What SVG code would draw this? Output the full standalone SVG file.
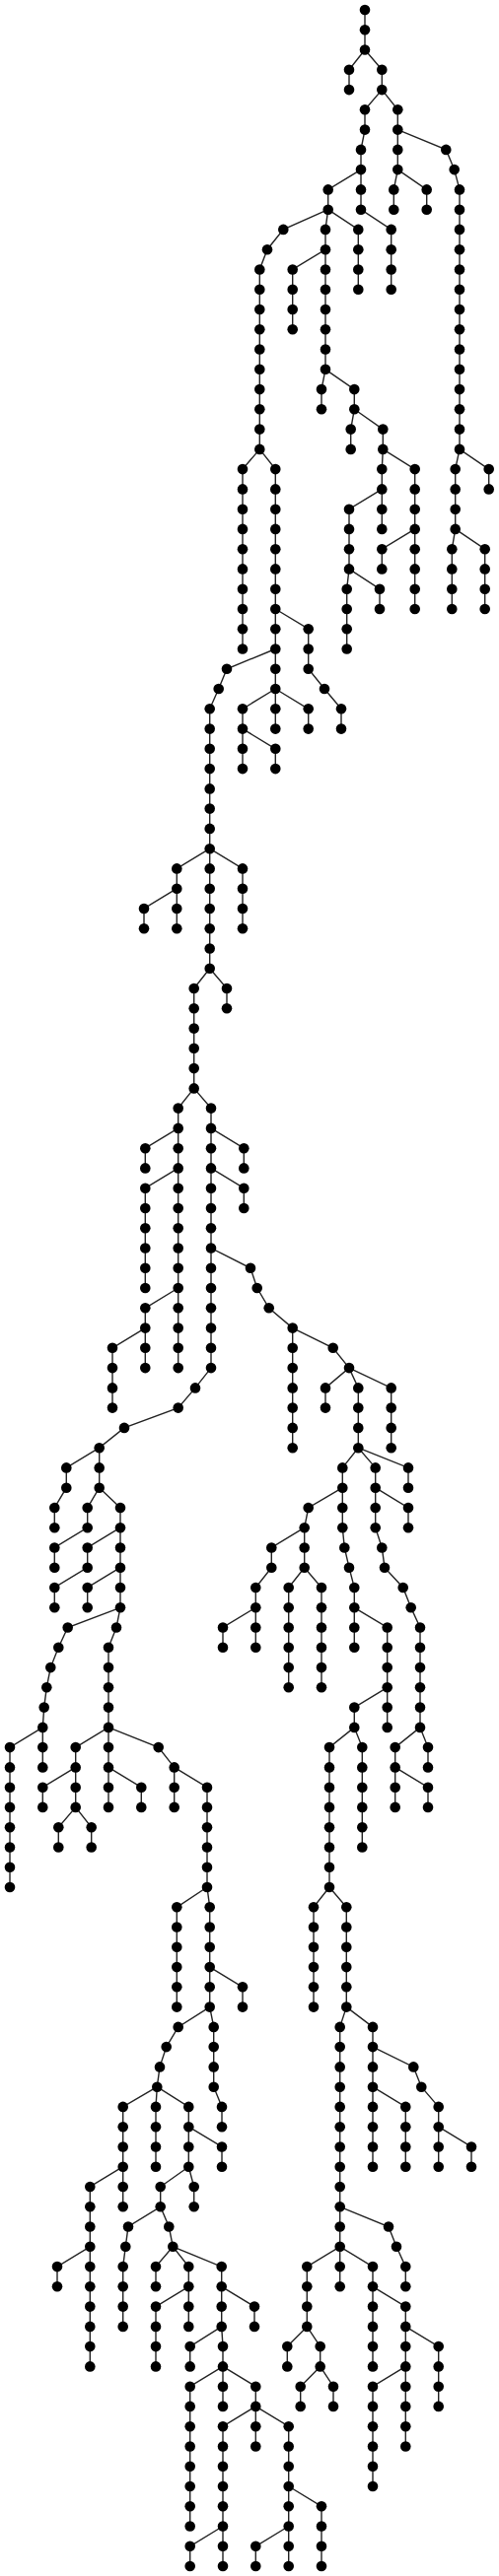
<svg xmlns="http://www.w3.org/2000/svg" width="506" height="2614" viewBox="0 0 506 2614">
<style>
.e path{fill:none;stroke:#222;stroke-width:1.4}
.n circle{fill:#000}
</style>
<rect width="506" height="2614" fill="#fff"/>
<g class="e" id="connectors">
<path d="M370 10V50.5"/>
<path d="M370 50.5L354 70.8V91.1"/>
<path d="M370 50.5L387.3 70.8V91.1"/>
<path d="M387.3 91.1L370 111.3V131.6L366 151.9V172.1"/>
<path d="M366 172.1L332.7 192.4V212.7"/>
<path d="M332.7 212.7L287.3 232.9L271 253.2L263.3 273.5V455.9"/>
<path d="M263.3 455.9L246 476.1V658.5"/>
<path d="M263.3 455.9L279.3 476.1V739.6"/>
<path d="M279.3 618L312.7 638.2V678.8L329 699L346 719.3V739.6"/>
<path d="M279.3 658.5L230 678.8L221.7 699L212.7 719.3V982.8"/>
<path d="M212.7 861.2L179.3 881.4V942.2"/>
<path d="M179.3 901.7L146 922V942.2"/>
<path d="M212.7 861.2L246 881.4V942.2"/>
<path d="M212.7 982.8L230 1003V1023.3"/>
<path d="M212.7 982.8L196.7 1003V1104.4"/>
<path d="M196.7 1104.4L180.7 1124.6V1388.1"/>
<path d="M180.7 1144.9L147.3 1165.2V1185.4"/>
<path d="M180.7 1185.4L147.3 1205.7V1307"/>
<path d="M180.7 1307L147.3 1327.3V1388.1"/>
<path d="M147.3 1347.6L114 1367.8V1428.6"/>
<path d="M196.7 1104.4L214 1124.6V1388.1L198 1408.4L180.7 1428.6L126 1448.9L100.7 1469.2V1509.7"/>
<path d="M214 1144.9L247.3 1165.2V1185.4"/>
<path d="M214 1185.4L247.3 1205.7V1226"/>
<path d="M214 1266.5L254 1286.8L260.7 1307L272.7 1327.3L296.7 1347.6V1469.2"/>
<path d="M296.7 1347.6L337.7 1367.8L354 1388.1L330 1408.4V1428.6"/>
<path d="M354 1388.1L363.3 1408.4V1469.2L380.7 1489.4V1550.2L387.3 1570.5L390 1590.7L408.7 1611L416.7 1631.3L426 1651.5V1752.9"/>
<path d="M354 1388.1L396.7 1408.4V1469.2"/>
<path d="M363.3 1469.2L347.3 1489.4V1550.2L349.3 1570.5L354 1590.7L359.3 1611V1671.8"/>
<path d="M363.3 1469.2L414 1489.4V1509.7"/>
<path d="M380.7 1509.7L414 1530V1550.2"/>
<path d="M347.3 1509.7L312.7 1530L308.7 1550.2V1590.7"/>
<path d="M308.7 1590.7L292.7 1611V1712.3"/>
<path d="M308.7 1590.7L326 1611V1712.3"/>
<path d="M308.7 1550.2L275.3 1570.5V1590.7L259.3 1611V1671.8"/>
<path d="M259.3 1631.3L226 1651.5V1671.8"/>
<path d="M359.3 1631.3L392.7 1651.5V1752.9"/>
<path d="M392.7 1712.3L359.3 1732.6V1752.9"/>
<path d="M359.3 1752.9L334 1773.1V1915"/>
<path d="M359.3 1752.9L367.3 1773.1V1874.5"/>
<path d="M426 1752.9L400.7 1773.1V1833.9"/>
<path d="M426 1752.9L434 1773.1V1793.4"/>
<path d="M400.7 1793.4L434 1813.7V1833.9"/>
<path d="M334 1915L318 1935.3V2036.6"/>
<path d="M334 1915L351.3 1935.3V2036.6"/>
<path d="M351.3 2036.6L344.7 2056.9V2320.3"/>
<path d="M344.7 2239.3L394 2259.5L402 2279.8L411.3 2300.1V2320.3"/>
<path d="M344.7 2279.8L311.3 2300.1V2360.9"/>
<path d="M311.3 2360.9L291.3 2381.1V2401.4"/>
<path d="M311.3 2360.9L324.7 2381.1V2401.4"/>
<path d="M324.7 2401.4L304.7 2421.7V2441.9"/>
<path d="M324.7 2401.4L338 2421.7V2441.9"/>
<path d="M344.7 2279.8L378 2300.1V2401.4"/>
<path d="M378 2320.3L411.3 2340.6V2482.5"/>
<path d="M411.3 2360.9L444.7 2381.1V2441.9"/>
<path d="M411.3 2401.4L378 2421.7V2523"/>
<path d="M351.3 2036.6L378 2056.9V2198.7"/>
<path d="M378 2077.1L419.3 2097.4L427.3 2117.7L444.7 2137.9V2198.7"/>
<path d="M444.7 2158.2L478 2178.5V2198.7"/>
<path d="M378 2117.7L411.3 2137.9V2198.7"/>
<path d="M100.7 1469.2L67.3 1489.4V1509.7L55.3 1530V1550.2"/>
<path d="M100.7 1509.7L88.7 1530V1550.2L55.3 1570.5V1590.7"/>
<path d="M100.7 1509.7L122 1530V1631.3"/>
<path d="M122 1550.2L88.7 1570.5V1590.7L55.3 1611V1631.3"/>
<path d="M122 1590.7L88.7 1611V1631.3"/>
<path d="M122 1631.3L68.7 1651.5L59.3 1671.8L51.3 1692.1L47.3 1712.3L44.7 1732.6L43.3 1752.9V1793.4"/>
<path d="M43.3 1752.9L10 1773.1V1915"/>
<path d="M122 1631.3L118 1651.5L110 1671.8V1833.9"/>
<path d="M110 1752.9L76.7 1773.1V1833.9"/>
<path d="M76.7 1793.4L43.3 1813.7V1833.9"/>
<path d="M76.7 1833.9L59.3 1854.2V1874.5"/>
<path d="M76.7 1833.9L92.7 1854.2V1874.5"/>
<path d="M110 1793.4L143.3 1813.7V1833.9"/>
<path d="M110 1752.9L160.7 1773.1L176.7 1793.4V1833.9"/>
<path d="M176.7 1793.4L210 1813.7V1915"/>
<path d="M210 1915L179.3 1935.3V2036.6"/>
<path d="M210 1915L212.7 1935.3V2036.6"/>
<path d="M212.7 1996.1L246 2016.3V2036.6"/>
<path d="M212.7 2036.6L180.7 2056.9L168.7 2077.1L162 2097.4L159.3 2117.7"/>
<path d="M159.3 2117.7L124.7 2137.9V2239.3"/>
<path d="M124.7 2198.7L91.3 2219V2401.4"/>
<path d="M91.3 2279.8L58 2300.1V2320.3"/>
<path d="M159.3 2117.7L158 2137.9V2198.7"/>
<path d="M159.3 2117.7L191.3 2137.9V2198.7"/>
<path d="M191.3 2158.2L225 2178.5V2198.7"/>
<path d="M191.3 2198.7L196.7 2219V2239.3"/>
<path d="M191.3 2198.7L162.7 2219V2239.3L130 2259.5L127.3 2279.8L124.7 2300.1V2360.9"/>
<path d="M162.7 2239.3L171.3 2259.5L175.3 2279.8"/>
<path d="M175.3 2279.8L158 2300.1V2320.3"/>
<path d="M175.3 2279.8L191.3 2300.1V2360.9"/>
<path d="M191.3 2320.3L158 2340.6V2401.4"/>
<path d="M175.3 2279.8L224.7 2300.1V2360.9"/>
<path d="M224.7 2320.3L258 2340.6V2360.9"/>
<path d="M224.7 2360.9L192.7 2381.1V2401.4"/>
<path d="M224.7 2360.9L226 2381.1V2441.9"/>
<path d="M226 2401.4L192.7 2421.7V2563.5"/>
<path d="M226 2401.4L259.3 2421.7V2482.5"/>
<path d="M259.3 2441.9L226 2462.2V2604"/>
<path d="M226 2563.5L192.7 2583.8V2604"/>
<path d="M259.3 2441.9L292.7 2462.2V2604"/>
<path d="M292.7 2523L326 2543.3V2604"/>
<path d="M292.7 2563.5L259.3 2583.8V2604"/>
<path d="M212.7 2036.6L216.7 2056.9V2117.7L225 2137.9V2158.2"/>
<path d="M279.3 699L246 719.3V780.1"/>
<path d="M246 739.6L279.3 759.8V780.1"/>
<path d="M279.3 699L312.7 719.3V739.6"/>
<path d="M332.7 212.7L330 232.9V374.8"/>
<path d="M330 253.2L296.7 273.5V334.3"/>
<path d="M330 374.8L326 395.1V415.3"/>
<path d="M330 374.8L359.3 395.1V415.3"/>
<path d="M359.3 415.3L355.7 435.6V455.9"/>
<path d="M359.3 415.3L388.3 435.6V455.9"/>
<path d="M388.3 455.9L387.3 476.1V536.9"/>
<path d="M387.3 496.4L354 516.7V577.4"/>
<path d="M354 577.4L351.7 597.7V658.5"/>
<path d="M354 577.4L385 597.7V618"/>
<path d="M388.3 455.9L420.7 476.1V618"/>
<path d="M420.7 536.9L387.3 557.2V577.4"/>
<path d="M332.7 212.7L363.3 232.9V293.7"/>
<path d="M366 172.1V212.7L396.7 232.9V293.7"/>
<path d="M387.3 91.1L403.3 111.3V172.1"/>
<path d="M403.3 172.1L399.3 192.4V212.7"/>
<path d="M403.3 172.1L432.7 192.4V212.7"/>
<path d="M403.3 131.6L452.3 151.9L460.7 172.1L466 192.4V455.9"/>
<path d="M466 455.9L461.7 476.1V536.9"/>
<path d="M461.7 536.9L458.3 557.2V618"/>
<path d="M461.7 536.9L491.7 557.2V618"/>
<path d="M466 455.9L495.7 476.1V496.4"/>
</g>
<g class="n" id="nodes">
<g id="n0"><circle cx="370" cy="10" r="5.3"/></g>
<g id="n1"><circle cx="370" cy="30.3" r="5.3"/></g>
<g id="n2"><circle cx="370" cy="50.5" r="5.3"/></g>
<g id="n3"><circle cx="354" cy="70.8" r="5.3"/></g>
<g id="n4"><circle cx="354" cy="91.1" r="5.3"/></g>
<g id="n5"><circle cx="387.3" cy="70.8" r="5.3"/></g>
<g id="n6"><circle cx="387.3" cy="91.1" r="5.3"/></g>
<g id="n7"><circle cx="370" cy="111.3" r="5.3"/></g>
<g id="n8"><circle cx="370" cy="131.6" r="5.3"/></g>
<g id="n9"><circle cx="366" cy="151.9" r="5.3"/></g>
<g id="n10"><circle cx="366" cy="172.1" r="5.3"/></g>
<g id="n11"><circle cx="332.7" cy="192.4" r="5.3"/></g>
<g id="n12"><circle cx="332.7" cy="212.7" r="5.3"/></g>
<g id="n13"><circle cx="287.3" cy="232.9" r="5.3"/></g>
<g id="n14"><circle cx="271" cy="253.2" r="5.3"/></g>
<g id="n15"><circle cx="263.3" cy="273.5" r="5.3"/></g>
<g id="n16"><circle cx="263.3" cy="293.7" r="5.3"/></g>
<g id="n17"><circle cx="263.3" cy="314" r="5.3"/></g>
<g id="n18"><circle cx="263.3" cy="334.3" r="5.3"/></g>
<g id="n19"><circle cx="263.3" cy="354.5" r="5.3"/></g>
<g id="n20"><circle cx="263.3" cy="374.8" r="5.3"/></g>
<g id="n21"><circle cx="263.3" cy="395.1" r="5.3"/></g>
<g id="n22"><circle cx="263.3" cy="415.3" r="5.3"/></g>
<g id="n23"><circle cx="263.3" cy="435.6" r="5.3"/></g>
<g id="n24"><circle cx="263.3" cy="455.9" r="5.3"/></g>
<g id="n25"><circle cx="246" cy="476.1" r="5.3"/></g>
<g id="n26"><circle cx="246" cy="496.4" r="5.3"/></g>
<g id="n27"><circle cx="246" cy="516.7" r="5.3"/></g>
<g id="n28"><circle cx="246" cy="536.9" r="5.3"/></g>
<g id="n29"><circle cx="246" cy="557.2" r="5.3"/></g>
<g id="n30"><circle cx="246" cy="577.4" r="5.3"/></g>
<g id="n31"><circle cx="246" cy="597.7" r="5.3"/></g>
<g id="n32"><circle cx="246" cy="618" r="5.3"/></g>
<g id="n33"><circle cx="246" cy="638.2" r="5.3"/></g>
<g id="n34"><circle cx="246" cy="658.5" r="5.3"/></g>
<g id="n35"><circle cx="279.3" cy="476.1" r="5.3"/></g>
<g id="n36"><circle cx="279.3" cy="496.4" r="5.3"/></g>
<g id="n37"><circle cx="279.3" cy="516.7" r="5.3"/></g>
<g id="n38"><circle cx="279.3" cy="536.9" r="5.3"/></g>
<g id="n39"><circle cx="279.3" cy="557.2" r="5.3"/></g>
<g id="n40"><circle cx="279.3" cy="577.4" r="5.3"/></g>
<g id="n41"><circle cx="279.3" cy="597.7" r="5.3"/></g>
<g id="n42"><circle cx="279.3" cy="618" r="5.3"/></g>
<g id="n43"><circle cx="279.3" cy="638.2" r="5.3"/></g>
<g id="n44"><circle cx="279.3" cy="658.5" r="5.3"/></g>
<g id="n45"><circle cx="279.3" cy="678.8" r="5.3"/></g>
<g id="n46"><circle cx="279.3" cy="699" r="5.3"/></g>
<g id="n47"><circle cx="279.3" cy="719.3" r="5.3"/></g>
<g id="n48"><circle cx="279.3" cy="739.6" r="5.3"/></g>
<g id="n49"><circle cx="312.7" cy="638.2" r="5.3"/></g>
<g id="n50"><circle cx="312.7" cy="658.5" r="5.3"/></g>
<g id="n51"><circle cx="312.7" cy="678.8" r="5.3"/></g>
<g id="n52"><circle cx="329" cy="699" r="5.3"/></g>
<g id="n53"><circle cx="346" cy="719.3" r="5.3"/></g>
<g id="n54"><circle cx="346" cy="739.6" r="5.3"/></g>
<g id="n55"><circle cx="230" cy="678.8" r="5.3"/></g>
<g id="n56"><circle cx="221.7" cy="699" r="5.3"/></g>
<g id="n57"><circle cx="212.7" cy="719.3" r="5.3"/></g>
<g id="n58"><circle cx="212.7" cy="739.6" r="5.3"/></g>
<g id="n59"><circle cx="212.7" cy="759.8" r="5.3"/></g>
<g id="n60"><circle cx="212.7" cy="780.1" r="5.3"/></g>
<g id="n61"><circle cx="212.7" cy="800.4" r="5.3"/></g>
<g id="n62"><circle cx="212.7" cy="820.6" r="5.3"/></g>
<g id="n63"><circle cx="212.7" cy="840.9" r="5.3"/></g>
<g id="n64"><circle cx="212.7" cy="861.2" r="5.3"/></g>
<g id="n65"><circle cx="212.7" cy="881.4" r="5.3"/></g>
<g id="n66"><circle cx="212.7" cy="901.7" r="5.3"/></g>
<g id="n67"><circle cx="212.7" cy="922" r="5.3"/></g>
<g id="n68"><circle cx="212.7" cy="942.2" r="5.3"/></g>
<g id="n69"><circle cx="212.7" cy="962.5" r="5.3"/></g>
<g id="n70"><circle cx="212.7" cy="982.8" r="5.3"/></g>
<g id="n71"><circle cx="179.3" cy="881.4" r="5.3"/></g>
<g id="n72"><circle cx="179.3" cy="901.7" r="5.3"/></g>
<g id="n73"><circle cx="179.3" cy="922" r="5.3"/></g>
<g id="n74"><circle cx="179.3" cy="942.2" r="5.3"/></g>
<g id="n75"><circle cx="146" cy="922" r="5.3"/></g>
<g id="n76"><circle cx="146" cy="942.2" r="5.3"/></g>
<g id="n77"><circle cx="246" cy="881.4" r="5.3"/></g>
<g id="n78"><circle cx="246" cy="901.7" r="5.3"/></g>
<g id="n79"><circle cx="246" cy="922" r="5.3"/></g>
<g id="n80"><circle cx="246" cy="942.2" r="5.3"/></g>
<g id="n81"><circle cx="230" cy="1003" r="5.3"/></g>
<g id="n82"><circle cx="230" cy="1023.3" r="5.3"/></g>
<g id="n83"><circle cx="196.7" cy="1003" r="5.3"/></g>
<g id="n84"><circle cx="196.7" cy="1023.3" r="5.3"/></g>
<g id="n85"><circle cx="196.7" cy="1043.6" r="5.3"/></g>
<g id="n86"><circle cx="196.7" cy="1063.8" r="5.3"/></g>
<g id="n87"><circle cx="196.7" cy="1084.1" r="5.3"/></g>
<g id="n88"><circle cx="196.7" cy="1104.4" r="5.3"/></g>
<g id="n89"><circle cx="180.7" cy="1124.6" r="5.3"/></g>
<g id="n90"><circle cx="180.7" cy="1144.9" r="5.3"/></g>
<g id="n91"><circle cx="180.7" cy="1165.2" r="5.3"/></g>
<g id="n92"><circle cx="180.7" cy="1185.4" r="5.3"/></g>
<g id="n93"><circle cx="180.7" cy="1205.7" r="5.3"/></g>
<g id="n94"><circle cx="180.7" cy="1226" r="5.3"/></g>
<g id="n95"><circle cx="180.7" cy="1246.2" r="5.3"/></g>
<g id="n96"><circle cx="180.7" cy="1266.5" r="5.3"/></g>
<g id="n97"><circle cx="180.7" cy="1286.8" r="5.3"/></g>
<g id="n98"><circle cx="180.7" cy="1307" r="5.3"/></g>
<g id="n99"><circle cx="180.7" cy="1327.3" r="5.3"/></g>
<g id="n100"><circle cx="180.7" cy="1347.6" r="5.3"/></g>
<g id="n101"><circle cx="180.7" cy="1367.8" r="5.3"/></g>
<g id="n102"><circle cx="180.7" cy="1388.1" r="5.3"/></g>
<g id="n103"><circle cx="147.3" cy="1165.2" r="5.3"/></g>
<g id="n104"><circle cx="147.3" cy="1185.4" r="5.3"/></g>
<g id="n105"><circle cx="147.3" cy="1205.7" r="5.3"/></g>
<g id="n106"><circle cx="147.3" cy="1226" r="5.3"/></g>
<g id="n107"><circle cx="147.3" cy="1246.2" r="5.3"/></g>
<g id="n108"><circle cx="147.3" cy="1266.5" r="5.3"/></g>
<g id="n109"><circle cx="147.3" cy="1286.8" r="5.3"/></g>
<g id="n110"><circle cx="147.3" cy="1307" r="5.3"/></g>
<g id="n111"><circle cx="147.3" cy="1327.3" r="5.3"/></g>
<g id="n112"><circle cx="147.3" cy="1347.6" r="5.3"/></g>
<g id="n113"><circle cx="147.3" cy="1367.8" r="5.3"/></g>
<g id="n114"><circle cx="147.3" cy="1388.1" r="5.3"/></g>
<g id="n115"><circle cx="114" cy="1367.8" r="5.3"/></g>
<g id="n116"><circle cx="114" cy="1388.1" r="5.3"/></g>
<g id="n117"><circle cx="114" cy="1408.4" r="5.3"/></g>
<g id="n118"><circle cx="114" cy="1428.6" r="5.3"/></g>
<g id="n119"><circle cx="214" cy="1124.6" r="5.3"/></g>
<g id="n120"><circle cx="214" cy="1144.9" r="5.3"/></g>
<g id="n121"><circle cx="214" cy="1165.2" r="5.3"/></g>
<g id="n122"><circle cx="214" cy="1185.4" r="5.3"/></g>
<g id="n123"><circle cx="214" cy="1205.7" r="5.3"/></g>
<g id="n124"><circle cx="214" cy="1226" r="5.3"/></g>
<g id="n125"><circle cx="214" cy="1246.2" r="5.3"/></g>
<g id="n126"><circle cx="214" cy="1266.5" r="5.3"/></g>
<g id="n127"><circle cx="214" cy="1286.8" r="5.3"/></g>
<g id="n128"><circle cx="214" cy="1307" r="5.3"/></g>
<g id="n129"><circle cx="214" cy="1327.3" r="5.3"/></g>
<g id="n130"><circle cx="214" cy="1347.6" r="5.3"/></g>
<g id="n131"><circle cx="214" cy="1367.8" r="5.3"/></g>
<g id="n132"><circle cx="214" cy="1388.1" r="5.3"/></g>
<g id="n133"><circle cx="198" cy="1408.4" r="5.3"/></g>
<g id="n134"><circle cx="180.7" cy="1428.6" r="5.3"/></g>
<g id="n135"><circle cx="126" cy="1448.9" r="5.3"/></g>
<g id="n136"><circle cx="100.7" cy="1469.2" r="5.3"/></g>
<g id="n137"><circle cx="100.7" cy="1489.4" r="5.3"/></g>
<g id="n138"><circle cx="100.7" cy="1509.7" r="5.3"/></g>
<g id="n139"><circle cx="247.3" cy="1165.2" r="5.3"/></g>
<g id="n140"><circle cx="247.3" cy="1185.4" r="5.3"/></g>
<g id="n141"><circle cx="247.3" cy="1205.7" r="5.3"/></g>
<g id="n142"><circle cx="247.3" cy="1226" r="5.3"/></g>
<g id="n143"><circle cx="254" cy="1286.8" r="5.3"/></g>
<g id="n144"><circle cx="260.7" cy="1307" r="5.3"/></g>
<g id="n145"><circle cx="272.7" cy="1327.3" r="5.3"/></g>
<g id="n146"><circle cx="296.7" cy="1347.6" r="5.3"/></g>
<g id="n147"><circle cx="296.7" cy="1367.8" r="5.3"/></g>
<g id="n148"><circle cx="296.7" cy="1388.1" r="5.3"/></g>
<g id="n149"><circle cx="296.7" cy="1408.4" r="5.3"/></g>
<g id="n150"><circle cx="296.7" cy="1428.6" r="5.3"/></g>
<g id="n151"><circle cx="296.7" cy="1448.9" r="5.3"/></g>
<g id="n152"><circle cx="296.7" cy="1469.2" r="5.3"/></g>
<g id="n153"><circle cx="337.7" cy="1367.8" r="5.3"/></g>
<g id="n154"><circle cx="354" cy="1388.1" r="5.3"/></g>
<g id="n155"><circle cx="330" cy="1408.4" r="5.3"/></g>
<g id="n156"><circle cx="330" cy="1428.6" r="5.3"/></g>
<g id="n157"><circle cx="363.3" cy="1408.4" r="5.3"/></g>
<g id="n158"><circle cx="363.3" cy="1428.6" r="5.3"/></g>
<g id="n159"><circle cx="363.3" cy="1448.9" r="5.3"/></g>
<g id="n160"><circle cx="363.3" cy="1469.2" r="5.3"/></g>
<g id="n161"><circle cx="380.7" cy="1489.4" r="5.3"/></g>
<g id="n162"><circle cx="380.7" cy="1509.7" r="5.3"/></g>
<g id="n163"><circle cx="380.7" cy="1530" r="5.3"/></g>
<g id="n164"><circle cx="380.7" cy="1550.2" r="5.3"/></g>
<g id="n165"><circle cx="387.3" cy="1570.5" r="5.3"/></g>
<g id="n166"><circle cx="390" cy="1590.7" r="5.3"/></g>
<g id="n167"><circle cx="408.7" cy="1611" r="5.3"/></g>
<g id="n168"><circle cx="416.7" cy="1631.3" r="5.3"/></g>
<g id="n169"><circle cx="426" cy="1651.5" r="5.3"/></g>
<g id="n170"><circle cx="426" cy="1671.8" r="5.3"/></g>
<g id="n171"><circle cx="426" cy="1692.1" r="5.3"/></g>
<g id="n172"><circle cx="426" cy="1712.3" r="5.3"/></g>
<g id="n173"><circle cx="426" cy="1732.6" r="5.3"/></g>
<g id="n174"><circle cx="426" cy="1752.9" r="5.3"/></g>
<g id="n175"><circle cx="396.7" cy="1408.4" r="5.3"/></g>
<g id="n176"><circle cx="396.7" cy="1428.6" r="5.3"/></g>
<g id="n177"><circle cx="396.7" cy="1448.9" r="5.3"/></g>
<g id="n178"><circle cx="396.7" cy="1469.2" r="5.3"/></g>
<g id="n179"><circle cx="347.3" cy="1489.4" r="5.3"/></g>
<g id="n180"><circle cx="347.3" cy="1509.7" r="5.3"/></g>
<g id="n181"><circle cx="347.3" cy="1530" r="5.3"/></g>
<g id="n182"><circle cx="347.3" cy="1550.2" r="5.3"/></g>
<g id="n183"><circle cx="349.3" cy="1570.5" r="5.3"/></g>
<g id="n184"><circle cx="354" cy="1590.7" r="5.3"/></g>
<g id="n185"><circle cx="359.3" cy="1611" r="5.3"/></g>
<g id="n186"><circle cx="359.3" cy="1631.3" r="5.3"/></g>
<g id="n187"><circle cx="359.3" cy="1651.5" r="5.3"/></g>
<g id="n188"><circle cx="359.3" cy="1671.8" r="5.3"/></g>
<g id="n189"><circle cx="414" cy="1489.4" r="5.3"/></g>
<g id="n190"><circle cx="414" cy="1509.7" r="5.3"/></g>
<g id="n191"><circle cx="414" cy="1530" r="5.3"/></g>
<g id="n192"><circle cx="414" cy="1550.2" r="5.3"/></g>
<g id="n193"><circle cx="312.7" cy="1530" r="5.3"/></g>
<g id="n194"><circle cx="308.7" cy="1550.2" r="5.3"/></g>
<g id="n195"><circle cx="308.7" cy="1570.5" r="5.3"/></g>
<g id="n196"><circle cx="308.7" cy="1590.7" r="5.3"/></g>
<g id="n197"><circle cx="292.7" cy="1611" r="5.3"/></g>
<g id="n198"><circle cx="292.7" cy="1631.3" r="5.3"/></g>
<g id="n199"><circle cx="292.7" cy="1651.5" r="5.3"/></g>
<g id="n200"><circle cx="292.7" cy="1671.8" r="5.3"/></g>
<g id="n201"><circle cx="292.7" cy="1692.1" r="5.3"/></g>
<g id="n202"><circle cx="292.7" cy="1712.3" r="5.3"/></g>
<g id="n203"><circle cx="326" cy="1611" r="5.3"/></g>
<g id="n204"><circle cx="326" cy="1631.3" r="5.3"/></g>
<g id="n205"><circle cx="326" cy="1651.5" r="5.3"/></g>
<g id="n206"><circle cx="326" cy="1671.8" r="5.3"/></g>
<g id="n207"><circle cx="326" cy="1692.1" r="5.3"/></g>
<g id="n208"><circle cx="326" cy="1712.3" r="5.3"/></g>
<g id="n209"><circle cx="275.3" cy="1570.5" r="5.3"/></g>
<g id="n210"><circle cx="275.3" cy="1590.7" r="5.3"/></g>
<g id="n211"><circle cx="259.3" cy="1611" r="5.3"/></g>
<g id="n212"><circle cx="259.3" cy="1631.3" r="5.3"/></g>
<g id="n213"><circle cx="259.3" cy="1651.5" r="5.3"/></g>
<g id="n214"><circle cx="259.3" cy="1671.8" r="5.3"/></g>
<g id="n215"><circle cx="226" cy="1651.5" r="5.3"/></g>
<g id="n216"><circle cx="226" cy="1671.8" r="5.3"/></g>
<g id="n217"><circle cx="392.7" cy="1651.5" r="5.3"/></g>
<g id="n218"><circle cx="392.7" cy="1671.8" r="5.3"/></g>
<g id="n219"><circle cx="392.7" cy="1692.1" r="5.3"/></g>
<g id="n220"><circle cx="392.7" cy="1712.3" r="5.3"/></g>
<g id="n221"><circle cx="392.7" cy="1732.6" r="5.3"/></g>
<g id="n222"><circle cx="392.7" cy="1752.9" r="5.3"/></g>
<g id="n223"><circle cx="359.3" cy="1732.6" r="5.3"/></g>
<g id="n224"><circle cx="359.3" cy="1752.9" r="5.3"/></g>
<g id="n225"><circle cx="334" cy="1773.1" r="5.3"/></g>
<g id="n226"><circle cx="334" cy="1793.4" r="5.3"/></g>
<g id="n227"><circle cx="334" cy="1813.7" r="5.3"/></g>
<g id="n228"><circle cx="334" cy="1833.9" r="5.3"/></g>
<g id="n229"><circle cx="334" cy="1854.2" r="5.3"/></g>
<g id="n230"><circle cx="334" cy="1874.5" r="5.3"/></g>
<g id="n231"><circle cx="334" cy="1894.7" r="5.3"/></g>
<g id="n232"><circle cx="334" cy="1915" r="5.3"/></g>
<g id="n233"><circle cx="367.3" cy="1773.1" r="5.3"/></g>
<g id="n234"><circle cx="367.3" cy="1793.4" r="5.3"/></g>
<g id="n235"><circle cx="367.3" cy="1813.7" r="5.3"/></g>
<g id="n236"><circle cx="367.3" cy="1833.9" r="5.3"/></g>
<g id="n237"><circle cx="367.3" cy="1854.2" r="5.3"/></g>
<g id="n238"><circle cx="367.3" cy="1874.5" r="5.3"/></g>
<g id="n239"><circle cx="400.7" cy="1773.1" r="5.3"/></g>
<g id="n240"><circle cx="400.7" cy="1793.4" r="5.3"/></g>
<g id="n241"><circle cx="400.7" cy="1813.7" r="5.3"/></g>
<g id="n242"><circle cx="400.7" cy="1833.9" r="5.3"/></g>
<g id="n243"><circle cx="434" cy="1773.1" r="5.3"/></g>
<g id="n244"><circle cx="434" cy="1793.4" r="5.3"/></g>
<g id="n245"><circle cx="434" cy="1813.7" r="5.3"/></g>
<g id="n246"><circle cx="434" cy="1833.9" r="5.3"/></g>
<g id="n247"><circle cx="318" cy="1935.3" r="5.3"/></g>
<g id="n248"><circle cx="318" cy="1955.5" r="5.3"/></g>
<g id="n249"><circle cx="318" cy="1975.8" r="5.3"/></g>
<g id="n250"><circle cx="318" cy="1996.1" r="5.3"/></g>
<g id="n251"><circle cx="318" cy="2016.3" r="5.3"/></g>
<g id="n252"><circle cx="318" cy="2036.6" r="5.3"/></g>
<g id="n253"><circle cx="351.3" cy="1935.3" r="5.3"/></g>
<g id="n254"><circle cx="351.3" cy="1955.5" r="5.3"/></g>
<g id="n255"><circle cx="351.3" cy="1975.8" r="5.3"/></g>
<g id="n256"><circle cx="351.3" cy="1996.1" r="5.3"/></g>
<g id="n257"><circle cx="351.3" cy="2016.3" r="5.3"/></g>
<g id="n258"><circle cx="351.3" cy="2036.6" r="5.3"/></g>
<g id="n259"><circle cx="344.7" cy="2056.9" r="5.3"/></g>
<g id="n260"><circle cx="344.7" cy="2077.1" r="5.3"/></g>
<g id="n261"><circle cx="344.7" cy="2097.4" r="5.3"/></g>
<g id="n262"><circle cx="344.7" cy="2117.7" r="5.3"/></g>
<g id="n263"><circle cx="344.7" cy="2137.9" r="5.3"/></g>
<g id="n264"><circle cx="344.7" cy="2158.2" r="5.3"/></g>
<g id="n265"><circle cx="344.7" cy="2178.5" r="5.3"/></g>
<g id="n266"><circle cx="344.7" cy="2198.7" r="5.3"/></g>
<g id="n267"><circle cx="344.7" cy="2219" r="5.3"/></g>
<g id="n268"><circle cx="344.7" cy="2239.3" r="5.3"/></g>
<g id="n269"><circle cx="344.7" cy="2259.5" r="5.3"/></g>
<g id="n270"><circle cx="344.7" cy="2279.8" r="5.3"/></g>
<g id="n271"><circle cx="344.7" cy="2300.1" r="5.3"/></g>
<g id="n272"><circle cx="344.7" cy="2320.3" r="5.3"/></g>
<g id="n273"><circle cx="394" cy="2259.5" r="5.3"/></g>
<g id="n274"><circle cx="402" cy="2279.8" r="5.3"/></g>
<g id="n275"><circle cx="411.3" cy="2300.1" r="5.3"/></g>
<g id="n276"><circle cx="411.3" cy="2320.3" r="5.3"/></g>
<g id="n277"><circle cx="311.3" cy="2300.1" r="5.3"/></g>
<g id="n278"><circle cx="311.3" cy="2320.3" r="5.3"/></g>
<g id="n279"><circle cx="311.3" cy="2340.6" r="5.3"/></g>
<g id="n280"><circle cx="311.3" cy="2360.9" r="5.3"/></g>
<g id="n281"><circle cx="291.3" cy="2381.1" r="5.3"/></g>
<g id="n282"><circle cx="291.3" cy="2401.4" r="5.3"/></g>
<g id="n283"><circle cx="324.7" cy="2381.1" r="5.3"/></g>
<g id="n284"><circle cx="324.7" cy="2401.4" r="5.3"/></g>
<g id="n285"><circle cx="304.7" cy="2421.7" r="5.3"/></g>
<g id="n286"><circle cx="304.7" cy="2441.9" r="5.3"/></g>
<g id="n287"><circle cx="338" cy="2421.7" r="5.3"/></g>
<g id="n288"><circle cx="338" cy="2441.9" r="5.3"/></g>
<g id="n289"><circle cx="378" cy="2300.1" r="5.3"/></g>
<g id="n290"><circle cx="378" cy="2320.3" r="5.3"/></g>
<g id="n291"><circle cx="378" cy="2340.6" r="5.3"/></g>
<g id="n292"><circle cx="378" cy="2360.9" r="5.3"/></g>
<g id="n293"><circle cx="378" cy="2381.1" r="5.3"/></g>
<g id="n294"><circle cx="378" cy="2401.4" r="5.3"/></g>
<g id="n295"><circle cx="411.3" cy="2340.6" r="5.3"/></g>
<g id="n296"><circle cx="411.3" cy="2360.9" r="5.3"/></g>
<g id="n297"><circle cx="411.3" cy="2381.1" r="5.3"/></g>
<g id="n298"><circle cx="411.3" cy="2401.4" r="5.3"/></g>
<g id="n299"><circle cx="411.3" cy="2421.7" r="5.3"/></g>
<g id="n300"><circle cx="411.3" cy="2441.9" r="5.3"/></g>
<g id="n301"><circle cx="411.3" cy="2462.2" r="5.3"/></g>
<g id="n302"><circle cx="411.3" cy="2482.5" r="5.3"/></g>
<g id="n303"><circle cx="444.7" cy="2381.1" r="5.3"/></g>
<g id="n304"><circle cx="444.7" cy="2401.4" r="5.3"/></g>
<g id="n305"><circle cx="444.7" cy="2421.7" r="5.3"/></g>
<g id="n306"><circle cx="444.7" cy="2441.9" r="5.3"/></g>
<g id="n307"><circle cx="378" cy="2421.7" r="5.3"/></g>
<g id="n308"><circle cx="378" cy="2441.9" r="5.3"/></g>
<g id="n309"><circle cx="378" cy="2462.2" r="5.3"/></g>
<g id="n310"><circle cx="378" cy="2482.5" r="5.3"/></g>
<g id="n311"><circle cx="378" cy="2502.7" r="5.3"/></g>
<g id="n312"><circle cx="378" cy="2523" r="5.3"/></g>
<g id="n313"><circle cx="378" cy="2056.9" r="5.3"/></g>
<g id="n314"><circle cx="378" cy="2077.1" r="5.3"/></g>
<g id="n315"><circle cx="378" cy="2097.4" r="5.3"/></g>
<g id="n316"><circle cx="378" cy="2117.7" r="5.3"/></g>
<g id="n317"><circle cx="378" cy="2137.9" r="5.3"/></g>
<g id="n318"><circle cx="378" cy="2158.2" r="5.3"/></g>
<g id="n319"><circle cx="378" cy="2178.5" r="5.3"/></g>
<g id="n320"><circle cx="378" cy="2198.7" r="5.3"/></g>
<g id="n321"><circle cx="419.3" cy="2097.4" r="5.3"/></g>
<g id="n322"><circle cx="427.3" cy="2117.7" r="5.3"/></g>
<g id="n323"><circle cx="444.7" cy="2137.9" r="5.3"/></g>
<g id="n324"><circle cx="444.7" cy="2158.2" r="5.3"/></g>
<g id="n325"><circle cx="444.7" cy="2178.5" r="5.3"/></g>
<g id="n326"><circle cx="444.7" cy="2198.7" r="5.3"/></g>
<g id="n327"><circle cx="478" cy="2178.5" r="5.3"/></g>
<g id="n328"><circle cx="478" cy="2198.7" r="5.3"/></g>
<g id="n329"><circle cx="411.3" cy="2137.9" r="5.3"/></g>
<g id="n330"><circle cx="411.3" cy="2158.2" r="5.3"/></g>
<g id="n331"><circle cx="411.3" cy="2178.5" r="5.3"/></g>
<g id="n332"><circle cx="411.3" cy="2198.7" r="5.3"/></g>
<g id="n333"><circle cx="67.3" cy="1489.4" r="5.3"/></g>
<g id="n334"><circle cx="67.3" cy="1509.7" r="5.3"/></g>
<g id="n335"><circle cx="55.3" cy="1530" r="5.3"/></g>
<g id="n336"><circle cx="55.3" cy="1550.2" r="5.3"/></g>
<g id="n337"><circle cx="88.7" cy="1530" r="5.3"/></g>
<g id="n338"><circle cx="88.7" cy="1550.2" r="5.3"/></g>
<g id="n339"><circle cx="55.3" cy="1570.5" r="5.3"/></g>
<g id="n340"><circle cx="55.3" cy="1590.7" r="5.3"/></g>
<g id="n341"><circle cx="122" cy="1530" r="5.3"/></g>
<g id="n342"><circle cx="122" cy="1550.2" r="5.3"/></g>
<g id="n343"><circle cx="122" cy="1570.5" r="5.3"/></g>
<g id="n344"><circle cx="122" cy="1590.7" r="5.3"/></g>
<g id="n345"><circle cx="122" cy="1611" r="5.3"/></g>
<g id="n346"><circle cx="122" cy="1631.3" r="5.3"/></g>
<g id="n347"><circle cx="88.7" cy="1570.5" r="5.3"/></g>
<g id="n348"><circle cx="88.7" cy="1590.7" r="5.3"/></g>
<g id="n349"><circle cx="55.3" cy="1611" r="5.3"/></g>
<g id="n350"><circle cx="55.3" cy="1631.3" r="5.3"/></g>
<g id="n351"><circle cx="88.7" cy="1611" r="5.3"/></g>
<g id="n352"><circle cx="88.7" cy="1631.3" r="5.3"/></g>
<g id="n353"><circle cx="68.7" cy="1651.5" r="5.3"/></g>
<g id="n354"><circle cx="59.3" cy="1671.8" r="5.3"/></g>
<g id="n355"><circle cx="51.3" cy="1692.1" r="5.3"/></g>
<g id="n356"><circle cx="47.3" cy="1712.3" r="5.3"/></g>
<g id="n357"><circle cx="44.7" cy="1732.6" r="5.3"/></g>
<g id="n358"><circle cx="43.3" cy="1752.9" r="5.3"/></g>
<g id="n359"><circle cx="43.3" cy="1773.1" r="5.3"/></g>
<g id="n360"><circle cx="43.3" cy="1793.4" r="5.3"/></g>
<g id="n361"><circle cx="10" cy="1773.1" r="5.3"/></g>
<g id="n362"><circle cx="10" cy="1793.4" r="5.3"/></g>
<g id="n363"><circle cx="10" cy="1813.7" r="5.3"/></g>
<g id="n364"><circle cx="10" cy="1833.9" r="5.3"/></g>
<g id="n365"><circle cx="10" cy="1854.2" r="5.3"/></g>
<g id="n366"><circle cx="10" cy="1874.5" r="5.3"/></g>
<g id="n367"><circle cx="10" cy="1894.7" r="5.3"/></g>
<g id="n368"><circle cx="10" cy="1915" r="5.3"/></g>
<g id="n369"><circle cx="118" cy="1651.5" r="5.3"/></g>
<g id="n370"><circle cx="110" cy="1671.8" r="5.3"/></g>
<g id="n371"><circle cx="110" cy="1692.1" r="5.3"/></g>
<g id="n372"><circle cx="110" cy="1712.3" r="5.3"/></g>
<g id="n373"><circle cx="110" cy="1732.6" r="5.3"/></g>
<g id="n374"><circle cx="110" cy="1752.9" r="5.3"/></g>
<g id="n375"><circle cx="110" cy="1773.1" r="5.3"/></g>
<g id="n376"><circle cx="110" cy="1793.4" r="5.3"/></g>
<g id="n377"><circle cx="110" cy="1813.7" r="5.3"/></g>
<g id="n378"><circle cx="110" cy="1833.9" r="5.3"/></g>
<g id="n379"><circle cx="76.7" cy="1773.1" r="5.3"/></g>
<g id="n380"><circle cx="76.7" cy="1793.4" r="5.3"/></g>
<g id="n381"><circle cx="76.7" cy="1813.7" r="5.3"/></g>
<g id="n382"><circle cx="76.7" cy="1833.9" r="5.3"/></g>
<g id="n383"><circle cx="43.3" cy="1813.7" r="5.3"/></g>
<g id="n384"><circle cx="43.3" cy="1833.9" r="5.3"/></g>
<g id="n385"><circle cx="59.3" cy="1854.2" r="5.3"/></g>
<g id="n386"><circle cx="59.3" cy="1874.5" r="5.3"/></g>
<g id="n387"><circle cx="92.7" cy="1854.2" r="5.3"/></g>
<g id="n388"><circle cx="92.7" cy="1874.5" r="5.3"/></g>
<g id="n389"><circle cx="143.3" cy="1813.7" r="5.3"/></g>
<g id="n390"><circle cx="143.3" cy="1833.9" r="5.3"/></g>
<g id="n391"><circle cx="160.7" cy="1773.1" r="5.3"/></g>
<g id="n392"><circle cx="176.7" cy="1793.4" r="5.3"/></g>
<g id="n393"><circle cx="176.7" cy="1813.7" r="5.3"/></g>
<g id="n394"><circle cx="176.7" cy="1833.9" r="5.3"/></g>
<g id="n395"><circle cx="210" cy="1813.7" r="5.3"/></g>
<g id="n396"><circle cx="210" cy="1833.9" r="5.3"/></g>
<g id="n397"><circle cx="210" cy="1854.2" r="5.3"/></g>
<g id="n398"><circle cx="210" cy="1874.5" r="5.3"/></g>
<g id="n399"><circle cx="210" cy="1894.7" r="5.3"/></g>
<g id="n400"><circle cx="210" cy="1915" r="5.3"/></g>
<g id="n401"><circle cx="179.3" cy="1935.3" r="5.3"/></g>
<g id="n402"><circle cx="179.3" cy="1955.5" r="5.3"/></g>
<g id="n403"><circle cx="179.3" cy="1975.8" r="5.3"/></g>
<g id="n404"><circle cx="179.3" cy="1996.1" r="5.3"/></g>
<g id="n405"><circle cx="179.3" cy="2016.3" r="5.3"/></g>
<g id="n406"><circle cx="179.3" cy="2036.6" r="5.3"/></g>
<g id="n407"><circle cx="212.7" cy="1935.3" r="5.3"/></g>
<g id="n408"><circle cx="212.7" cy="1955.5" r="5.3"/></g>
<g id="n409"><circle cx="212.7" cy="1975.8" r="5.3"/></g>
<g id="n410"><circle cx="212.7" cy="1996.1" r="5.3"/></g>
<g id="n411"><circle cx="212.7" cy="2016.3" r="5.3"/></g>
<g id="n412"><circle cx="212.7" cy="2036.6" r="5.3"/></g>
<g id="n413"><circle cx="246" cy="2016.3" r="5.3"/></g>
<g id="n414"><circle cx="246" cy="2036.6" r="5.3"/></g>
<g id="n415"><circle cx="180.7" cy="2056.9" r="5.3"/></g>
<g id="n416"><circle cx="168.7" cy="2077.1" r="5.3"/></g>
<g id="n417"><circle cx="162" cy="2097.4" r="5.3"/></g>
<g id="n418"><circle cx="159.3" cy="2117.7" r="5.3"/></g>
<g id="n419"><circle cx="124.7" cy="2137.9" r="5.3"/></g>
<g id="n420"><circle cx="124.7" cy="2158.2" r="5.3"/></g>
<g id="n421"><circle cx="124.7" cy="2178.5" r="5.3"/></g>
<g id="n422"><circle cx="124.7" cy="2198.7" r="5.3"/></g>
<g id="n423"><circle cx="124.7" cy="2219" r="5.3"/></g>
<g id="n424"><circle cx="124.7" cy="2239.3" r="5.3"/></g>
<g id="n425"><circle cx="91.3" cy="2219" r="5.3"/></g>
<g id="n426"><circle cx="91.3" cy="2239.3" r="5.3"/></g>
<g id="n427"><circle cx="91.3" cy="2259.5" r="5.3"/></g>
<g id="n428"><circle cx="91.3" cy="2279.8" r="5.3"/></g>
<g id="n429"><circle cx="91.3" cy="2300.1" r="5.3"/></g>
<g id="n430"><circle cx="91.3" cy="2320.3" r="5.3"/></g>
<g id="n431"><circle cx="91.3" cy="2340.6" r="5.3"/></g>
<g id="n432"><circle cx="91.3" cy="2360.9" r="5.3"/></g>
<g id="n433"><circle cx="91.3" cy="2381.1" r="5.3"/></g>
<g id="n434"><circle cx="91.3" cy="2401.4" r="5.3"/></g>
<g id="n435"><circle cx="58" cy="2300.1" r="5.3"/></g>
<g id="n436"><circle cx="58" cy="2320.3" r="5.3"/></g>
<g id="n437"><circle cx="158" cy="2137.9" r="5.3"/></g>
<g id="n438"><circle cx="158" cy="2158.2" r="5.3"/></g>
<g id="n439"><circle cx="158" cy="2178.5" r="5.3"/></g>
<g id="n440"><circle cx="158" cy="2198.7" r="5.3"/></g>
<g id="n441"><circle cx="191.3" cy="2137.9" r="5.3"/></g>
<g id="n442"><circle cx="191.3" cy="2158.2" r="5.3"/></g>
<g id="n443"><circle cx="191.3" cy="2178.5" r="5.3"/></g>
<g id="n444"><circle cx="191.3" cy="2198.7" r="5.3"/></g>
<g id="n445"><circle cx="225" cy="2178.5" r="5.3"/></g>
<g id="n446"><circle cx="225" cy="2198.7" r="5.3"/></g>
<g id="n447"><circle cx="196.7" cy="2219" r="5.3"/></g>
<g id="n448"><circle cx="196.7" cy="2239.3" r="5.3"/></g>
<g id="n449"><circle cx="162.7" cy="2219" r="5.3"/></g>
<g id="n450"><circle cx="162.7" cy="2239.3" r="5.3"/></g>
<g id="n451"><circle cx="130" cy="2259.5" r="5.3"/></g>
<g id="n452"><circle cx="127.3" cy="2279.8" r="5.3"/></g>
<g id="n453"><circle cx="124.7" cy="2300.1" r="5.3"/></g>
<g id="n454"><circle cx="124.7" cy="2320.3" r="5.3"/></g>
<g id="n455"><circle cx="124.7" cy="2340.6" r="5.3"/></g>
<g id="n456"><circle cx="124.7" cy="2360.9" r="5.3"/></g>
<g id="n457"><circle cx="171.3" cy="2259.5" r="5.3"/></g>
<g id="n458"><circle cx="175.3" cy="2279.8" r="5.3"/></g>
<g id="n459"><circle cx="158" cy="2300.1" r="5.3"/></g>
<g id="n460"><circle cx="158" cy="2320.3" r="5.3"/></g>
<g id="n461"><circle cx="191.3" cy="2300.1" r="5.3"/></g>
<g id="n462"><circle cx="191.3" cy="2320.3" r="5.3"/></g>
<g id="n463"><circle cx="191.3" cy="2340.6" r="5.3"/></g>
<g id="n464"><circle cx="191.3" cy="2360.9" r="5.3"/></g>
<g id="n465"><circle cx="158" cy="2340.6" r="5.3"/></g>
<g id="n466"><circle cx="158" cy="2360.9" r="5.3"/></g>
<g id="n467"><circle cx="158" cy="2381.1" r="5.3"/></g>
<g id="n468"><circle cx="158" cy="2401.4" r="5.3"/></g>
<g id="n469"><circle cx="224.7" cy="2300.1" r="5.3"/></g>
<g id="n470"><circle cx="224.7" cy="2320.3" r="5.3"/></g>
<g id="n471"><circle cx="224.7" cy="2340.6" r="5.3"/></g>
<g id="n472"><circle cx="224.7" cy="2360.9" r="5.3"/></g>
<g id="n473"><circle cx="258" cy="2340.6" r="5.3"/></g>
<g id="n474"><circle cx="258" cy="2360.9" r="5.3"/></g>
<g id="n475"><circle cx="192.7" cy="2381.1" r="5.3"/></g>
<g id="n476"><circle cx="192.7" cy="2401.4" r="5.3"/></g>
<g id="n477"><circle cx="226" cy="2381.1" r="5.3"/></g>
<g id="n478"><circle cx="226" cy="2401.4" r="5.3"/></g>
<g id="n479"><circle cx="192.7" cy="2421.7" r="5.3"/></g>
<g id="n480"><circle cx="192.7" cy="2441.9" r="5.3"/></g>
<g id="n481"><circle cx="192.7" cy="2462.2" r="5.3"/></g>
<g id="n482"><circle cx="192.7" cy="2482.5" r="5.3"/></g>
<g id="n483"><circle cx="192.7" cy="2502.7" r="5.3"/></g>
<g id="n484"><circle cx="192.7" cy="2523" r="5.3"/></g>
<g id="n485"><circle cx="192.7" cy="2543.3" r="5.3"/></g>
<g id="n486"><circle cx="192.7" cy="2563.5" r="5.3"/></g>
<g id="n487"><circle cx="226" cy="2421.7" r="5.3"/></g>
<g id="n488"><circle cx="226" cy="2441.9" r="5.3"/></g>
<g id="n489"><circle cx="259.3" cy="2421.7" r="5.3"/></g>
<g id="n490"><circle cx="259.3" cy="2441.9" r="5.3"/></g>
<g id="n491"><circle cx="226" cy="2462.2" r="5.3"/></g>
<g id="n492"><circle cx="226" cy="2482.5" r="5.3"/></g>
<g id="n493"><circle cx="226" cy="2502.7" r="5.3"/></g>
<g id="n494"><circle cx="226" cy="2523" r="5.3"/></g>
<g id="n495"><circle cx="226" cy="2543.3" r="5.3"/></g>
<g id="n496"><circle cx="226" cy="2563.5" r="5.3"/></g>
<g id="n497"><circle cx="226" cy="2583.8" r="5.3"/></g>
<g id="n498"><circle cx="226" cy="2604" r="5.3"/></g>
<g id="n499"><circle cx="192.7" cy="2583.8" r="5.3"/></g>
<g id="n500"><circle cx="192.7" cy="2604" r="5.3"/></g>
<g id="n501"><circle cx="259.3" cy="2462.2" r="5.3"/></g>
<g id="n502"><circle cx="259.3" cy="2482.5" r="5.3"/></g>
<g id="n503"><circle cx="292.7" cy="2462.2" r="5.3"/></g>
<g id="n504"><circle cx="292.7" cy="2482.5" r="5.3"/></g>
<g id="n505"><circle cx="292.7" cy="2502.7" r="5.3"/></g>
<g id="n506"><circle cx="292.7" cy="2523" r="5.3"/></g>
<g id="n507"><circle cx="292.7" cy="2543.3" r="5.3"/></g>
<g id="n508"><circle cx="292.7" cy="2563.5" r="5.3"/></g>
<g id="n509"><circle cx="292.7" cy="2583.8" r="5.3"/></g>
<g id="n510"><circle cx="292.7" cy="2604" r="5.3"/></g>
<g id="n511"><circle cx="326" cy="2543.3" r="5.3"/></g>
<g id="n512"><circle cx="326" cy="2563.5" r="5.3"/></g>
<g id="n513"><circle cx="326" cy="2583.8" r="5.3"/></g>
<g id="n514"><circle cx="326" cy="2604" r="5.3"/></g>
<g id="n515"><circle cx="259.3" cy="2583.8" r="5.3"/></g>
<g id="n516"><circle cx="259.3" cy="2604" r="5.3"/></g>
<g id="n517"><circle cx="216.7" cy="2056.9" r="5.3"/></g>
<g id="n518"><circle cx="216.7" cy="2077.1" r="5.3"/></g>
<g id="n519"><circle cx="216.7" cy="2097.4" r="5.3"/></g>
<g id="n520"><circle cx="216.7" cy="2117.7" r="5.3"/></g>
<g id="n521"><circle cx="225" cy="2137.9" r="5.3"/></g>
<g id="n522"><circle cx="225" cy="2158.2" r="5.3"/></g>
<g id="n523"><circle cx="246" cy="719.3" r="5.3"/></g>
<g id="n524"><circle cx="246" cy="739.6" r="5.3"/></g>
<g id="n525"><circle cx="246" cy="759.8" r="5.3"/></g>
<g id="n526"><circle cx="246" cy="780.1" r="5.3"/></g>
<g id="n527"><circle cx="279.3" cy="759.8" r="5.3"/></g>
<g id="n528"><circle cx="279.3" cy="780.1" r="5.3"/></g>
<g id="n529"><circle cx="312.7" cy="719.3" r="5.3"/></g>
<g id="n530"><circle cx="312.7" cy="739.6" r="5.3"/></g>
<g id="n531"><circle cx="330" cy="232.9" r="5.3"/></g>
<g id="n532"><circle cx="330" cy="253.2" r="5.3"/></g>
<g id="n533"><circle cx="330" cy="273.5" r="5.3"/></g>
<g id="n534"><circle cx="330" cy="293.7" r="5.3"/></g>
<g id="n535"><circle cx="330" cy="314" r="5.3"/></g>
<g id="n536"><circle cx="330" cy="334.3" r="5.3"/></g>
<g id="n537"><circle cx="330" cy="354.5" r="5.3"/></g>
<g id="n538"><circle cx="330" cy="374.8" r="5.3"/></g>
<g id="n539"><circle cx="296.7" cy="273.5" r="5.3"/></g>
<g id="n540"><circle cx="296.7" cy="293.7" r="5.3"/></g>
<g id="n541"><circle cx="296.7" cy="314" r="5.3"/></g>
<g id="n542"><circle cx="296.7" cy="334.3" r="5.3"/></g>
<g id="n543"><circle cx="326" cy="395.1" r="5.3"/></g>
<g id="n544"><circle cx="326" cy="415.3" r="5.3"/></g>
<g id="n545"><circle cx="359.3" cy="395.1" r="5.3"/></g>
<g id="n546"><circle cx="359.3" cy="415.3" r="5.3"/></g>
<g id="n547"><circle cx="355.7" cy="435.6" r="5.3"/></g>
<g id="n548"><circle cx="355.7" cy="455.9" r="5.3"/></g>
<g id="n549"><circle cx="388.3" cy="435.6" r="5.3"/></g>
<g id="n550"><circle cx="388.3" cy="455.9" r="5.3"/></g>
<g id="n551"><circle cx="387.3" cy="476.1" r="5.3"/></g>
<g id="n552"><circle cx="387.3" cy="496.4" r="5.3"/></g>
<g id="n553"><circle cx="387.3" cy="516.7" r="5.3"/></g>
<g id="n554"><circle cx="387.3" cy="536.9" r="5.3"/></g>
<g id="n555"><circle cx="354" cy="516.7" r="5.3"/></g>
<g id="n556"><circle cx="354" cy="536.9" r="5.3"/></g>
<g id="n557"><circle cx="354" cy="557.2" r="5.3"/></g>
<g id="n558"><circle cx="354" cy="577.4" r="5.3"/></g>
<g id="n559"><circle cx="351.7" cy="597.7" r="5.3"/></g>
<g id="n560"><circle cx="351.7" cy="618" r="5.3"/></g>
<g id="n561"><circle cx="351.7" cy="638.2" r="5.3"/></g>
<g id="n562"><circle cx="351.7" cy="658.5" r="5.3"/></g>
<g id="n563"><circle cx="385" cy="597.7" r="5.3"/></g>
<g id="n564"><circle cx="385" cy="618" r="5.3"/></g>
<g id="n565"><circle cx="420.7" cy="476.1" r="5.3"/></g>
<g id="n566"><circle cx="420.7" cy="496.4" r="5.3"/></g>
<g id="n567"><circle cx="420.7" cy="516.7" r="5.3"/></g>
<g id="n568"><circle cx="420.7" cy="536.9" r="5.3"/></g>
<g id="n569"><circle cx="420.7" cy="557.2" r="5.3"/></g>
<g id="n570"><circle cx="420.7" cy="577.4" r="5.3"/></g>
<g id="n571"><circle cx="420.7" cy="597.7" r="5.3"/></g>
<g id="n572"><circle cx="420.7" cy="618" r="5.3"/></g>
<g id="n573"><circle cx="387.3" cy="557.2" r="5.3"/></g>
<g id="n574"><circle cx="387.3" cy="577.4" r="5.3"/></g>
<g id="n575"><circle cx="363.3" cy="232.9" r="5.3"/></g>
<g id="n576"><circle cx="363.3" cy="253.2" r="5.3"/></g>
<g id="n577"><circle cx="363.3" cy="273.5" r="5.3"/></g>
<g id="n578"><circle cx="363.3" cy="293.7" r="5.3"/></g>
<g id="n579"><circle cx="366" cy="192.4" r="5.3"/></g>
<g id="n580"><circle cx="366" cy="212.7" r="5.3"/></g>
<g id="n581"><circle cx="396.7" cy="232.9" r="5.3"/></g>
<g id="n582"><circle cx="396.7" cy="253.2" r="5.3"/></g>
<g id="n583"><circle cx="396.7" cy="273.5" r="5.3"/></g>
<g id="n584"><circle cx="396.7" cy="293.7" r="5.3"/></g>
<g id="n585"><circle cx="403.3" cy="111.3" r="5.3"/></g>
<g id="n586"><circle cx="403.3" cy="131.6" r="5.3"/></g>
<g id="n587"><circle cx="403.3" cy="151.9" r="5.3"/></g>
<g id="n588"><circle cx="403.3" cy="172.1" r="5.3"/></g>
<g id="n589"><circle cx="399.3" cy="192.4" r="5.3"/></g>
<g id="n590"><circle cx="399.3" cy="212.7" r="5.3"/></g>
<g id="n591"><circle cx="432.7" cy="192.4" r="5.3"/></g>
<g id="n592"><circle cx="432.7" cy="212.7" r="5.3"/></g>
<g id="n593"><circle cx="452.3" cy="151.9" r="5.3"/></g>
<g id="n594"><circle cx="460.7" cy="172.1" r="5.3"/></g>
<g id="n595"><circle cx="466" cy="192.4" r="5.3"/></g>
<g id="n596"><circle cx="466" cy="212.7" r="5.3"/></g>
<g id="n597"><circle cx="466" cy="232.9" r="5.3"/></g>
<g id="n598"><circle cx="466" cy="253.2" r="5.3"/></g>
<g id="n599"><circle cx="466" cy="273.5" r="5.3"/></g>
<g id="n600"><circle cx="466" cy="293.7" r="5.3"/></g>
<g id="n601"><circle cx="466" cy="314" r="5.3"/></g>
<g id="n602"><circle cx="466" cy="334.3" r="5.3"/></g>
<g id="n603"><circle cx="466" cy="354.5" r="5.3"/></g>
<g id="n604"><circle cx="466" cy="374.8" r="5.3"/></g>
<g id="n605"><circle cx="466" cy="395.1" r="5.3"/></g>
<g id="n606"><circle cx="466" cy="415.3" r="5.3"/></g>
<g id="n607"><circle cx="466" cy="435.6" r="5.3"/></g>
<g id="n608"><circle cx="466" cy="455.9" r="5.3"/></g>
<g id="n609"><circle cx="461.7" cy="476.1" r="5.3"/></g>
<g id="n610"><circle cx="461.7" cy="496.4" r="5.3"/></g>
<g id="n611"><circle cx="461.7" cy="516.7" r="5.3"/></g>
<g id="n612"><circle cx="461.7" cy="536.9" r="5.3"/></g>
<g id="n613"><circle cx="458.3" cy="557.2" r="5.3"/></g>
<g id="n614"><circle cx="458.3" cy="577.4" r="5.3"/></g>
<g id="n615"><circle cx="458.3" cy="597.7" r="5.3"/></g>
<g id="n616"><circle cx="458.3" cy="618" r="5.3"/></g>
<g id="n617"><circle cx="491.7" cy="557.2" r="5.3"/></g>
<g id="n618"><circle cx="491.7" cy="577.4" r="5.3"/></g>
<g id="n619"><circle cx="491.7" cy="597.7" r="5.3"/></g>
<g id="n620"><circle cx="491.7" cy="618" r="5.3"/></g>
<g id="n621"><circle cx="495.7" cy="476.1" r="5.3"/></g>
<g id="n622"><circle cx="495.7" cy="496.4" r="5.3"/></g>
</g>
</svg>
